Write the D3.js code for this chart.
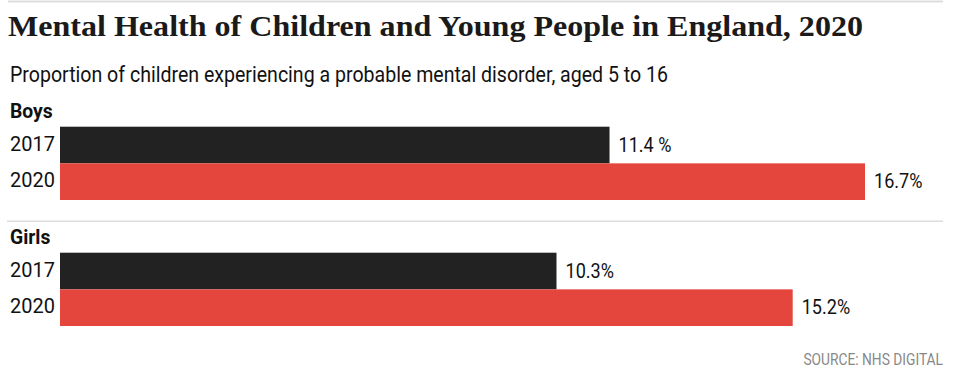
<!DOCTYPE html>
<html>
<head>
<meta charset="utf-8">
<script src="https://cdn.jsdelivr.net/npm/d3@7"></script>
<style>
  html, body { margin: 0; padding: 0; background: #fff; }
  svg { display: block; }
</style>
</head>
<body>
<svg id="chart" width="980" height="385"></svg>
<script>
const titleText = "Mental Health of Children and Young People in England, 2020";
const subtitleText = "Proportion of children experiencing a probable mental disorder, aged 5 to 16";
const sourceText = "SOURCE: NHS DIGITAL";
const groups = ["Boys", "Girls"];
const years = ["2017", "2020"];
const values2017 = [11.4, 10.3];
const values2020 = [16.7, 15.2];
const labels2017 = ["11.4 %", "10.3%"];
const labels2020 = ["16.7%", "15.2%"];

const colors = { "2017": "#222222", "2020": "#e4463d" };
const sans = "'Roboto', 'Liberation Sans', sans-serif";
const serif = "'Liberation Serif', 'DejaVu Serif', serif";

const data = groups.map((g, i) => ({
  group: g,
  bars: [
    { year: years[0], value: values2017[i], label: labels2017[i] },
    { year: years[1], value: values2020[i], label: labels2020[i] }
  ]
}));

const svg = d3.select("#chart");

function condense(sel, k) {
  sel.each(function () {
    const w = this.getComputedTextLength();
    d3.select(this).attr("textLength", w * k).attr("lengthAdjust", "spacingAndGlyphs");
  });
}

// top rule
svg.append("line").attr("x1", 8).attr("x2", 943).attr("y1", 1.5).attr("y2", 1.5)
  .attr("stroke", "#dddddd").attr("stroke-width", 2);

// title
svg.append("text").attr("x", 8).attr("y", 36)
  .attr("font-family", serif).attr("font-weight", "bold").attr("font-size", 29)
  .attr("fill", "#1a1a1a")
  .attr("textLength", 855).attr("lengthAdjust", "spacingAndGlyphs")
  .text(titleText);

// subtitle
svg.append("text").attr("x", 10).attr("y", 82)
  .attr("font-family", sans).attr("font-size", 21.5)
  .attr("fill", "#111")
  .attr("textLength", 658).attr("lengthAdjust", "spacingAndGlyphs")
  .text(subtitleText);

const x = d3.scaleLinear().domain([0, d3.max(values2020)]).range([60, 865]);
const gy = d3.scaleBand().domain(groups).range([100.7, 352.7]);
const yy = d3.scaleBand().domain(years).range([26, 99.3]);

const g = svg.selectAll("g.group").data(data).join("g")
  .attr("class", "group")
  .attr("transform", d => `translate(0,${gy(d.group)})`);

// separator between groups
g.filter((d, i) => i > 0).append("line")
  .attr("x1", 7).attr("x2", 943).attr("y1", -5.5).attr("y2", -5.5)
  .attr("stroke", "#dddddd").attr("stroke-width", 1.5);

g.append("text").attr("x", 10).attr("y", 17)
  .attr("font-family", sans).attr("font-weight", "bold").attr("font-size", 21)
  .attr("fill", "#111")
  .text(d => d.group)
  .call(condense, 0.92);

const bar = g.selectAll("g.bar").data(d => d.bars).join("g").attr("class", "bar");

bar.append("rect")
  .attr("x", x(0))
  .attr("y", d => yy(d.year))
  .attr("width", d => x(d.value) - x(0))
  .attr("height", yy.bandwidth())
  .attr("fill", d => colors[d.year]);

bar.append("text")
  .attr("x", 10)
  .attr("y", d => yy(d.year) + yy.bandwidth() / 2 + 5.5)
  .attr("font-family", sans).attr("font-size", 21)
  .attr("fill", "#111")
  .text(d => d.year)
  .call(condense, 0.95);

bar.append("text")
  .attr("x", d => x(d.value) + 9)
  .attr("y", d => yy(d.year) + yy.bandwidth() / 2 + 6.5)
  .attr("font-family", sans).attr("font-size", 21)
  .attr("fill", "#111")
  .text(d => d.label)
  .call(condense, 0.86);

// source
svg.append("text").attr("x", 943).attr("y", 365)
  .attr("text-anchor", "end")
  .attr("font-family", sans).attr("font-size", 16)
  .attr("fill", "#888888")
  .text(sourceText)
  .call(condense, 0.86);
</script>
</body>
</html>
